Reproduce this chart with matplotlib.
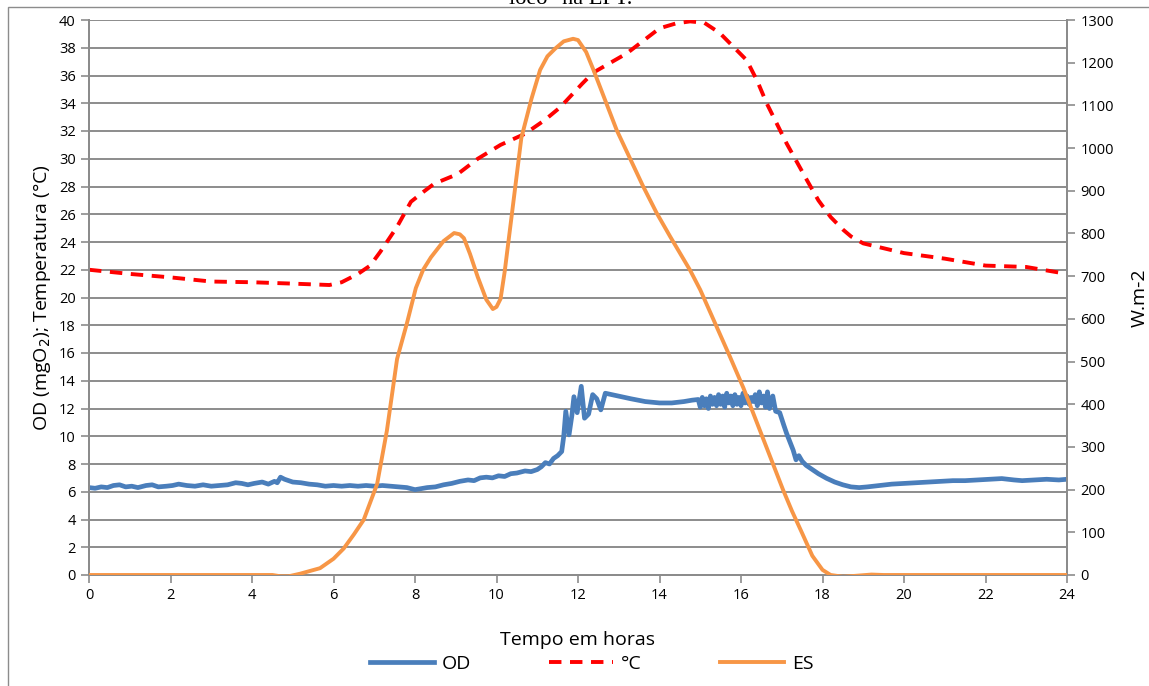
import matplotlib.pyplot as plt
from matplotlib.patches import Rectangle

# Oxigénio dissolvido (mgO2) ao longo do dia
od_t = [0.0, 0.15, 0.3, 0.45, 0.6, 0.75, 0.9, 1.05, 1.2, 1.4, 1.55, 1.7, 1.9, 2.05, 2.2, 2.4,
        2.6, 2.8, 3.0, 3.2, 3.4, 3.6, 3.75, 3.9, 4.05, 4.25, 4.4, 4.55, 4.62, 4.7, 4.8, 5.0,
        5.2, 5.4, 5.6, 5.8, 6.0, 6.2, 6.4, 6.6, 6.8, 7.0, 7.2, 7.4, 7.6, 7.8, 8.0, 8.1,
        8.3, 8.5, 8.7, 8.9, 9.1, 9.3, 9.45, 9.6, 9.75, 9.9, 10.05, 10.2, 10.35, 10.5, 10.7, 10.85,
        11.0, 11.1, 11.2, 11.3, 11.4, 11.5, 11.6, 11.65, 11.7, 11.78, 11.85, 11.9, 11.98, 12.08, 12.16, 12.26,
        12.36, 12.46, 12.56, 12.67, 12.83, 13.0, 13.3, 13.65, 14.0, 14.3, 14.6, 14.8, 14.95, 15.0, 15.05, 15.1,
        15.15, 15.2, 15.25, 15.3, 15.35, 15.4, 15.45, 15.5, 15.55, 15.6, 15.65, 15.7, 15.75, 15.8, 15.85, 15.9,
        15.95, 16.0, 16.05, 16.1, 16.15, 16.2, 16.25, 16.3, 16.35, 16.4, 16.45, 16.5, 16.55, 16.6, 16.65, 16.7,
        16.78, 16.85, 16.95, 17.05, 17.12, 17.2, 17.28, 17.35, 17.42, 17.5, 17.6, 17.75, 17.9, 18.1, 18.3, 18.5,
        18.7, 18.9, 19.1, 19.4, 19.7, 20.0, 20.3, 20.6, 20.9, 21.2, 21.5, 21.8, 22.1, 22.4, 22.7, 22.9,
        23.2, 23.5, 23.8, 24.0]
od_v = [6.3, 6.25, 6.35, 6.3, 6.45, 6.5, 6.35, 6.4, 6.3, 6.45, 6.5, 6.35, 6.4, 6.45, 6.55, 6.45,
        6.4, 6.5, 6.4, 6.45, 6.5, 6.65, 6.6, 6.5, 6.6, 6.7, 6.55, 6.75, 6.65, 7.05, 6.9, 6.7,
        6.65, 6.55, 6.5, 6.4, 6.45, 6.4, 6.45, 6.4, 6.45, 6.4, 6.45, 6.4, 6.35, 6.3, 6.15, 6.2,
        6.3, 6.35, 6.5, 6.6, 6.75, 6.85, 6.8, 7.0, 7.05, 7.0, 7.15, 7.1, 7.3, 7.35, 7.5, 7.45,
        7.6, 7.8, 8.1, 8.0, 8.4, 8.6, 8.9, 10.0, 11.8, 10.1, 11.5, 12.85, 11.7, 13.6, 11.3, 11.6,
        13.0, 12.7, 11.9, 13.1, 13.0, 12.9, 12.7, 12.5, 12.4, 12.4, 12.5, 12.6, 12.65, 12.1, 12.8, 12.2,
        12.7, 12.0, 12.9, 12.3, 12.8, 12.2, 13.0, 12.3, 12.9, 12.1, 13.1, 12.4, 12.9, 12.2, 13.0, 12.3,
        12.8, 12.2, 13.1, 12.4, 12.9, 12.3, 12.8, 12.5, 13.0, 12.2, 13.2, 12.4, 12.9, 12.1, 13.2, 12.0,
        12.9, 11.8, 11.7, 10.8, 10.2, 9.6, 9.0, 8.3, 8.6, 8.2, 7.9, 7.6, 7.3, 6.97, 6.7, 6.5,
        6.35, 6.3, 6.35, 6.45, 6.55, 6.6, 6.65, 6.7, 6.75, 6.8, 6.8, 6.85, 6.9, 6.95, 6.85, 6.8,
        6.85, 6.9, 6.85, 6.9]

# Temperatura da água (°C)
temp_t = [0, 1, 2, 3, 4, 5, 5.9, 6.2, 6.6, 6.9, 7.15, 7.56, 7.9, 8.2, 8.47, 9.05,
          9.54, 10.1, 10.7, 11.19, 11.56, 12.1, 12.37, 13.2, 14.0, 14.4, 14.75, 15.1, 15.48, 16.14, 16.4, 16.63,
          17.12, 17.61, 17.9, 18.2, 18.5, 18.7, 19.0, 20.0, 21.0, 22.0, 23.0, 24.0]
temp_v = [22.0, 21.7, 21.45, 21.15, 21.1, 21.0, 20.9, 21.1, 21.7, 22.3, 23.3, 25.1, 26.9, 27.6, 28.2, 28.9,
          30.0, 31.0, 31.8, 32.8, 33.7, 35.4, 36.2, 37.6, 39.4, 39.75, 39.9, 39.8, 39.06, 37.1, 35.6, 34.0,
          31.1, 28.5, 27.0, 25.8, 24.9, 24.4, 23.9, 23.2, 22.8, 22.3, 22.2, 21.7]

# Energia solar (W.m-2)
es_t = [0, 1, 2, 3, 4, 4.5, 4.7, 4.9, 5.18, 5.67, 6.0, 6.25, 6.5, 6.74, 7.07, 7.31,
        7.56, 7.8, 8.02, 8.2, 8.39, 8.7, 8.96, 9.1, 9.2, 9.35, 9.54, 9.75, 9.91, 10.0, 10.1, 10.2,
        10.36, 10.61, 10.86, 11.07, 11.25, 11.44, 11.65, 11.88, 12.0, 12.2, 12.38, 12.95, 13.6, 13.93, 14.26, 14.75,
        15.0, 15.4, 15.73, 16.06, 16.5, 17.03, 17.25, 17.5, 17.75, 18.0, 18.2, 18.5, 18.8, 19.2,
        19.5, 20, 21, 22, 23, 24]
es_v = [0, 0, 0, 0, 0, 0, -3, -3, 3, 16, 38, 62, 95, 129, 213, 338,
        506, 589, 672, 715, 744, 782, 801, 798, 789, 752, 698, 645, 623, 628, 647, 710,
        832, 1024, 1116, 1183, 1215, 1233, 1250, 1256, 1253, 1225, 1183, 1042, 910, 848, 793, 714,
        668, 582, 511, 438, 330, 200, 150, 98, 45, 12, 0, -4, -2, 1,
        0, 0, 0, 0, 0, 0]

x_ticks = list(range(0, 25, 2))
left_ticks = list(range(0, 41, 2))
right_ticks = list(range(0, 1301, 100))

plt.rcParams['font.family'] = ['Open Sans', 'DejaVu Sans']

fig = plt.figure(figsize=(11.49, 6.86), dpi=100)
ax = fig.add_axes([89 / 1149, 1 - 575 / 686, 978 / 1149, 555 / 686])
ax2 = ax.twinx()

grid_c = '#8c8c8c'
ax.set_axisbelow(True)
ax.yaxis.grid(True, color=grid_c, linewidth=1.4)

l_od, = ax.plot(od_t, od_v, color='#4a7ebb', linewidth=3.4, solid_joinstyle='round', zorder=3)
l_t, = ax.plot(temp_t, temp_v, color='#ff0000', linewidth=2.8, dashes=(3.2, 2.2), zorder=4)
l_es, = ax2.plot(es_t, es_v, color='#f79646', linewidth=2.8, solid_joinstyle='round', zorder=3)

ax.set_xlim(0, 24)
ax.set_ylim(0, 40)
ax2.set_ylim(0, 1300)
ax.set_xticks(x_ticks)
ax.set_yticks(left_ticks)
ax2.set_yticks(right_ticks)

for a in (ax, ax2):
    for s in a.spines.values():
        s.set_color(grid_c)
        s.set_linewidth(1.4)
    a.spines['top'].set_visible(False)
    a.tick_params(colors=grid_c, labelcolor='black', labelsize=10.5, width=1.2, length=6)

ax.set_ylabel('OD (mgO$_2$); Temperatura (°C)', fontsize=14, labelpad=4)
ax2.set_ylabel('W.m-2', fontsize=14, labelpad=12)
ax.set_xlabel('Tempo em horas', fontsize=14, labelpad=20)

fig.legend([l_od, l_t, l_es], ['OD', '°C', 'ES'], loc='center', bbox_to_anchor=(0.515, 1 - 664 / 686),
           ncol=3, frameon=False, fontsize=14, handlelength=3.3, columnspacing=4.0, handletextpad=0.4)

# moldura da área do gráfico
fig.patches.append(Rectangle((8 / 1149, -0.05), 1.2, 1 - 7 / 686 + 0.05, transform=fig.transFigure,
                             fill=False, edgecolor='#8c8c8c', linewidth=1.0))

fig.text(0.497, 1.0, 'ióeo" na EPT.', ha='center', va='center', fontsize=16,
         family='Liberation Serif')

fig.savefig('out.png', dpi=100)
